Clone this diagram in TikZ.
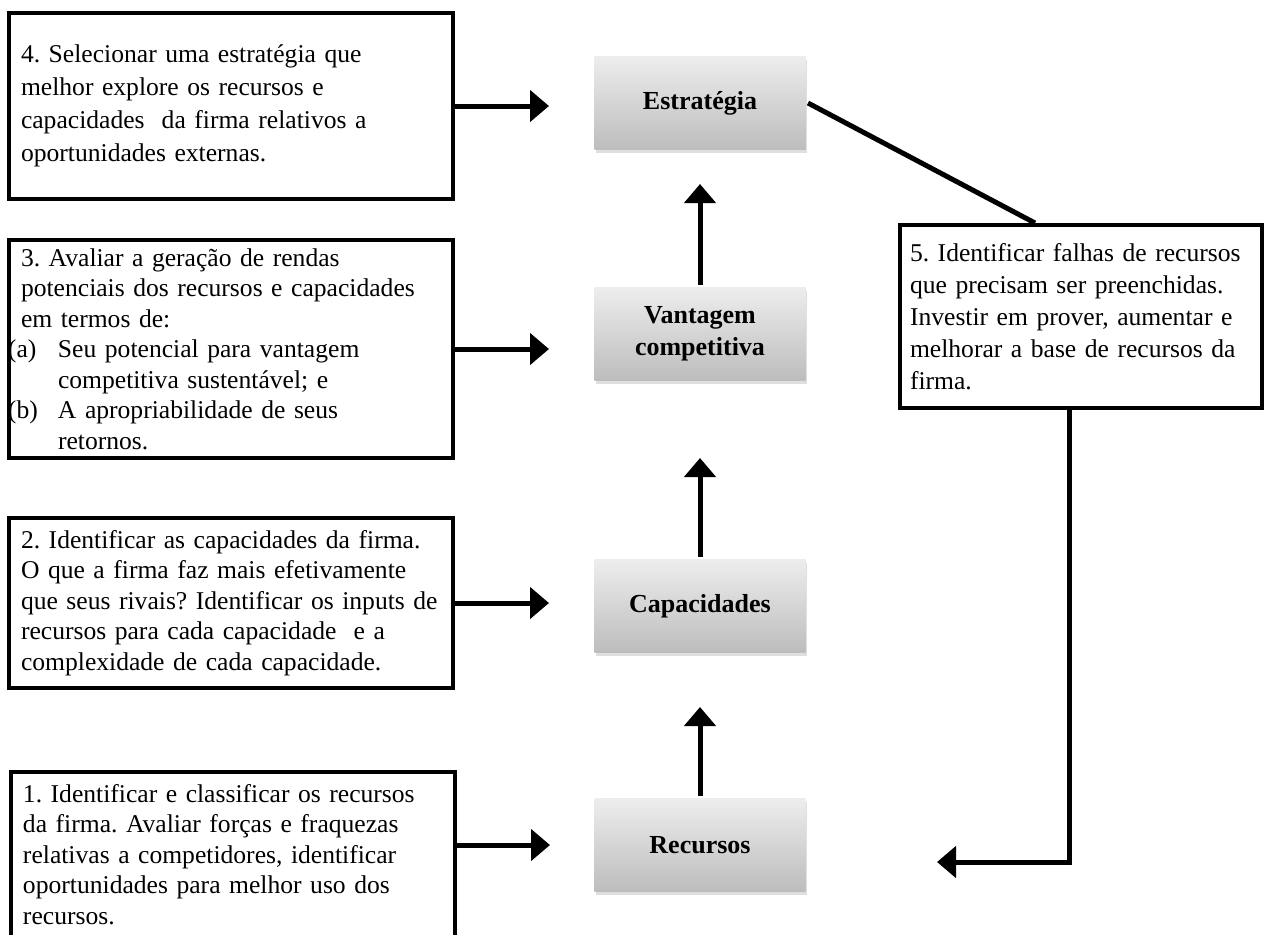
\documentclass[tikz,border=0pt]{standalone}
\usepackage{fontspec}
\setmainfont{Liberation Serif}
\usetikzlibrary{arrows.meta}
\usetikzlibrary{shadows}

\begin{document}
\begin{tikzpicture}[x=0.5pt,y=-0.5pt,line width=2.5pt,
    >={Triangle[length=9.5pt,width=15.5pt]},
    core/.style={minimum width=105.5pt,minimum height=46.5pt,align=center,
      top color=black!7,bottom color=black!26,
      drop shadow={opacity=0.25,shadow xshift=0.6pt,shadow yshift=-1.6pt},
      font=\fontsize{13}{16}\selectfont\bfseries},
    stepbox/.style={draw,line width=2pt,fill=white,align=left,
      inner xsep=6pt,inner ysep=2pt,text width=210pt,
      font=\fontsize{12.8}{15.25}\selectfont\frenchspacing}]
  \useasboundingbox (0,0) rectangle (1264,934);
  \clip (0,0) rectangle (1264,934);
  % centre column
  \node[core] (Est) at (700,103) {Estratégia};
  \node[core] (Vant) at (700,334) {Vantagem\\competitiva};
  \node[core] (Cap) at (700,606) {Capacidades};
  \node[core] (Rec) at (700,845) {Recursos};
  % steps
  \node[stepbox,minimum height=93pt,
    font=\fontsize{12.8}{16.5}\selectfont\frenchspacing] (P4) at (231,106)
    {4. Selecionar uma estratégia que\\
     melhor explore os recursos e\\
     capacidades\ \ da firma relativos a\\
     oportunidades externas.};
  \node[stepbox,minimum height=109pt] (P3) at (231,349)
    {3. Avaliar a geração de rendas\\
     potenciais dos recursos e capacidades\\
     em termos de:\\
     \hspace*{-6.5pt}\makebox[25pt][l]{(a)}Seu potencial para vantagem\\
     \hspace*{18.5pt}competitiva sustentável; e\\
     \hspace*{-6.5pt}\makebox[25pt][l]{(b)}A apropriabilidade de seus\\
     \hspace*{18.5pt}retornos.};
  \node[stepbox,minimum height=85pt] (P2) at (231,603)
    {2. Identificar as capacidades da firma.\\
     O que a firma faz mais efetivamente\\
     que seus rivais? Identificar os inputs de\\
     recursos para cada capacidade\ \ e a\\
     complexidade de cada capacidade.};
  \node[stepbox,anchor=north west,inner ysep=6pt] (P1) at (9,770)
    {1. Identificar e classificar os recursos\\
     da firma. Avaliar forças e fraquezas\\
     relativas a competidores, identificar\\
     oportunidades para melhor uso dos\\
     recursos.\\ \mbox{}};
  \node[stepbox,text width=171pt,inner xsep=5pt,minimum height=91.5pt,
    font=\fontsize{12.8}{16}\selectfont\frenchspacing] (P5) at (1081,316.5)
    {5. Identificar falhas de recursos\\
     que precisam ser preenchidas.\\
     Investir em prover, aumentar e\\
     melhorar a base de recursos da\\
     firma.};
  % connectors
  \draw[->,shorten >=21.5pt] (P4.east) -- (P4.east -| Est.west);
  \draw[->,shorten >=21.5pt] (P3.east) -- (P3.east -| Vant.west);
  \draw[->,shorten >=21.5pt] (P2.east) -- (P2.east -| Cap.west);
  \draw[->,shorten >=21pt] (P1.east |- Rec.west) -- (Rec.west);
  \draw[->,shorten >=26pt] (Rec.north) -- (Cap.south);
  \draw[->,shorten >=37.5pt] (Cap.north) -- (Vant.south);
  \draw[->,shorten >=16pt] (Vant.north) -- (Est.south);
  \draw (Est.east) -- ([xshift=68.5pt]P5.north west);
  \coordinate (ret) at (937,862);
  \draw[->] ([xshift=-6pt]P5.south) |- (ret);
\end{tikzpicture}
\end{document}
